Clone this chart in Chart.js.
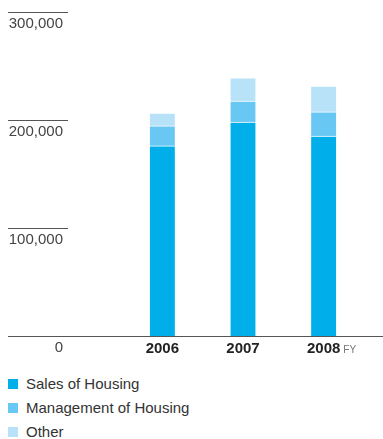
<!DOCTYPE html>
<html lang="en">

<head>
    <meta charset="UTF-8">
    <meta name="viewport" content="width=device-width, initial-scale=1.0">
    <title>Revenue by segment</title>
    <script src="https://cdn.jsdelivr.net/npm/chart.js"></script>
    <style>
        body { margin: 0; background: #fff; font-family: "Liberation Sans", Arial, sans-serif; }
        .janela { position: relative; width: 383px; height: 439px; }
        .grafico { position: absolute; left: 0; top: 0; width: 383px; height: 360px; }
        #legenda { position: absolute; left: 8px; top: 372px; margin: 0; padding: 0; list-style: none; }
        #legenda li { height: 24px; line-height: 20px; font-size: 15px; color: #333; display: flex; align-items: center; }
        #legenda span.caixa { display: inline-block; width: 10px; height: 10px; margin-right: 8px; }
    </style>
</head>

<body>
    <div class="janela">
        <div class="grafico"><canvas id="myChart"></canvas></div>
        <ul id="legenda"></ul>
    </div>
</body>

<script>
    // anos fiscais e valores por segmento
    const anos = ['2006', '2007', '2008'];
    const vendas = [176000, 198000, 185000];
    const administracao = [18500, 19500, 22500];
    const outros = [12000, 21500, 24000];
    const ticksY = [0, 100000, 200000, 300000];

    const nomes = ['Sales of Housing', 'Management of Housing', 'Other'];
    const cores = ['rgb(0, 174, 234)', 'rgb(104, 200, 243)', 'rgb(183, 226, 248)'];

    // eixo Y: traço curto acima de cada rótulo, linha do zero atravessa tudo
    const eixoY = {
        id: 'eixoY',
        afterDraw(chart) {
            const ctx = chart.ctx;
            const y = chart.scales.y;
            ctx.save();
            ctx.font = '15px "Liberation Sans", Arial, sans-serif';
            ctx.fillStyle = '#444';
            ctx.textAlign = 'right';
            ctx.textBaseline = 'top';
            for (let i = 0; i < ticksY.length; i++) {
                const py = Math.round(y.getPixelForValue(ticksY[i])) + 0.5;
                ctx.strokeStyle = '#555';
                ctx.lineWidth = 1;
                ctx.beginPath();
                ctx.moveTo(8, py);
                ctx.lineTo(ticksY[i] == 0 ? chart.width : 68, py);
                ctx.stroke();
                ctx.fillText(ticksY[i].toLocaleString('en-US'), 63, py + 3.5);
            }
            ctx.restore();
        }
    };

    // rótulos dos anos em negrito + "FY" no último
    const eixoX = {
        id: 'eixoX',
        afterDraw(chart) {
            const ctx = chart.ctx;
            const x = chart.scales.x;
            const base = chart.chartArea.bottom;
            ctx.save();
            ctx.font = 'bold 15px "Liberation Sans", Arial, sans-serif';
            ctx.fillStyle = '#222';
            ctx.textAlign = 'center';
            ctx.textBaseline = 'top';
            for (let i = 0; i < anos.length; i++) {
                ctx.fillText(anos[i], x.getPixelForValue(i), base + 5);
            }
            const ultimo = x.getPixelForValue(anos.length - 1) + ctx.measureText(anos[anos.length - 1]).width / 2;
            ctx.font = '10px "Liberation Sans", Arial, sans-serif';
            ctx.fillStyle = '#777';
            ctx.textAlign = 'left';
            ctx.fillText('FY', ultimo + 3, base + 9);
            ctx.restore();
        }
    };

    const series = [vendas, administracao, outros];
    const datasets = series.map((dados, i) => ({
        label: nomes[i],
        data: dados,
        backgroundColor: cores[i],
        borderColor: '#fff',
        borderWidth: { top: 1, left: 0, right: 0, bottom: 0 },
        borderSkipped: false,
        barThickness: 25
    }));

    const chart = new Chart(document.getElementById('myChart'), {
        type: 'bar',
        data: { labels: anos, datasets: datasets },
        options: {
            responsive: true,
            maintainAspectRatio: false,
            animation: false,
            layout: { padding: { left: 122, right: 19, top: 12, bottom: 24 } },
            plugins: { legend: { display: false }, tooltip: { enabled: false } },
            scales: {
                x: { stacked: true, display: false },
                y: { stacked: true, display: false, min: 0, max: 300000 }
            }
        },
        plugins: [eixoY, eixoX]
    });

    // legenda vertical em HTML
    const legenda = document.getElementById('legenda');
    chart.data.datasets.forEach(ds => {
        const li = document.createElement('li');
        li.innerHTML = `<span class="caixa" style="background:${ds.backgroundColor}"></span>${ds.label}`;
        legenda.appendChild(li);
    });
</script>

</html>
